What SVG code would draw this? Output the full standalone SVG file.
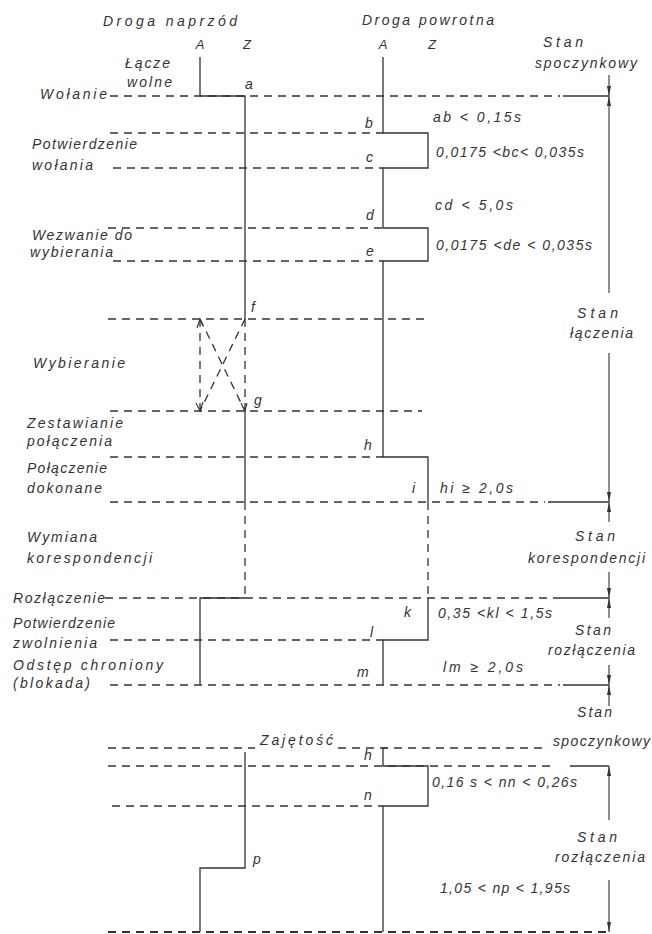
<svg xmlns="http://www.w3.org/2000/svg" width="652" height="934" viewBox="0 0 652 934">
<defs>
<marker id="ah" viewBox="0 0 10 4" refX="10" refY="2" markerWidth="10" markerHeight="4" markerUnits="userSpaceOnUse" orient="auto">
<path d="M0,0 L10,2 L0,4 z" fill="#333"/>
</marker>
</defs>
<style>
.t{font-family:"Liberation Sans","DejaVu Sans",sans-serif;font-style:italic;font-size:14px;fill:#333;}
.s{font-size:13px;}
.d{stroke:#333;stroke-width:1.3;stroke-dasharray:8 6;fill:none;}
.w{stroke:#333;stroke-width:1.3;fill:none;}
.a{stroke:#333;stroke-width:1.1;fill:none;marker-end:url(#ah);}
</style>
<rect width="652" height="934" fill="#fff"/>

<g id="dashed-levels">
<line class="d" x1="110" y1="96" x2="560" y2="96"/><line class="w" x1="563" y1="96" x2="609" y2="96"/>
<line class="d" x1="110" y1="133" x2="383" y2="133"/>
<line class="d" x1="113" y1="168" x2="383" y2="168"/>
<line class="d" x1="108" y1="228" x2="383" y2="228"/>
<line class="d" x1="113" y1="261" x2="383" y2="261"/>
<line class="d" x1="108" y1="319" x2="425" y2="319"/>
<line class="d" x1="110" y1="411" x2="422" y2="411"/>
<line class="d" x1="110" y1="457" x2="383" y2="457"/>
<line class="d" x1="110" y1="502" x2="545" y2="502"/><line class="w" x1="548" y1="502" x2="609" y2="502"/>
<line class="d" x1="105" y1="598" x2="550" y2="598"/><line class="w" x1="553" y1="598" x2="609" y2="598"/>
<line class="d" x1="110" y1="640" x2="383" y2="640"/>
<line class="d" x1="110" y1="685" x2="560" y2="685"/><line class="w" x1="563" y1="685" x2="609" y2="685"/>
<line class="d" x1="108" y1="748" x2="255" y2="748"/><line class="d" x1="338" y1="748" x2="548" y2="748"/>
<line class="d" x1="108" y1="766" x2="555" y2="766"/><line class="w" x1="570" y1="766" x2="609" y2="766"/>
<line class="d" x1="112" y1="806" x2="383" y2="806"/>
<line class="d" x1="108" y1="932" x2="609" y2="932" style="stroke-width:1.8"/>
</g>

<g id="forward-path">
<path class="w" d="M200,57 V96 H245 V319"/>
<line class="d" x1="245" y1="319" x2="245" y2="411"/>
<line class="d" x1="200" y1="319" x2="200" y2="411"/>
<line class="d" x1="245" y1="319" x2="200" y2="411"/>
<line class="d" x1="200" y1="319" x2="245" y2="411"/>
<polyline class="w" points="197,328 200,319 203,326" style="stroke-width:1.1"/>
<polyline class="w" points="196,403 200,411 203,402" style="stroke-width:1.1"/>
<polyline class="w" points="241,403 245,411 247,403" style="stroke-width:1.1"/>
<path class="w" d="M245,411 V502"/>
<line class="d" x1="245" y1="502" x2="245" y2="598"/>
<path class="w" d="M245,598 H200 V685"/>
<path class="w" d="M245,752 V868 H200 V932"/>
</g>

<g id="return-path">
<path class="w" d="M383,57 V133 H428 V168 H383 V228 H428 V261 H383 V457 H428 V502"/>
<line class="d" x1="428" y1="502" x2="428" y2="598"/>
<path class="w" d="M428,598 V640 H383 V685"/>
<path class="w" d="M387,748 H383 V766 H428 V806 H383 V932"/>
</g>

<g id="state-arrows">
<line class="a" x1="609" y1="75" x2="609" y2="96"/>
<line class="a" x1="609" y1="293" x2="609" y2="96"/>
<line class="a" x1="609" y1="353" x2="609" y2="502"/>
<line class="a" x1="609" y1="522" x2="609" y2="502"/>
<line class="a" x1="609" y1="572" x2="609" y2="598"/>
<line class="a" x1="609" y1="618" x2="609" y2="598"/>
<line class="a" x1="609" y1="665" x2="609" y2="685"/>
<line class="a" x1="609" y1="706" x2="609" y2="685"/>
<line class="a" x1="609" y1="820" x2="609" y2="766"/>
<line class="a" x1="609" y1="880" x2="609" y2="932"/>
</g>

<g id="headers">
<text class="t" x="103" y="26" textLength="134" lengthAdjust="spacing">Droga naprzód</text>
<text class="t s" x="200" y="49" text-anchor="middle">A</text>
<text class="t s" x="247" y="49" text-anchor="middle">Z</text>
<text class="t" x="362" y="25" textLength="132" lengthAdjust="spacing">Droga powrotna</text>
<text class="t s" x="383" y="49" text-anchor="middle">A</text>
<text class="t s" x="432" y="49" text-anchor="middle">Z</text>
</g>

<g id="left-labels">
<text class="t" x="125" y="68" textLength="45" lengthAdjust="spacing">Łącze</text>
<text class="t" x="127" y="87" textLength="45" lengthAdjust="spacing">wolne</text>
<text class="t" x="40" y="99" textLength="67" lengthAdjust="spacing">Wołanie</text>
<text class="t" x="32" y="149" textLength="105" lengthAdjust="spacing">Potwierdzenie</text>
<text class="t" x="32" y="170" textLength="61" lengthAdjust="spacing">wołania</text>
<text class="t" x="32" y="240" textLength="100" lengthAdjust="spacing">Wezwanie do</text>
<text class="t" x="30" y="257" textLength="83" lengthAdjust="spacing">wybierania</text>
<text class="t" x="33" y="368" textLength="92" lengthAdjust="spacing">Wybieranie</text>
<text class="t" x="27" y="428" textLength="96" lengthAdjust="spacing">Zestawianie</text>
<text class="t" x="27" y="446" textLength="85" lengthAdjust="spacing">połączenia</text>
<text class="t" x="27" y="473" textLength="80" lengthAdjust="spacing">Połączenie</text>
<text class="t" x="27" y="493" textLength="75" lengthAdjust="spacing">dokonane</text>
<text class="t" x="27" y="542" textLength="70" lengthAdjust="spacing">Wymiana</text>
<text class="t" x="27" y="563" textLength="125" lengthAdjust="spacing">korespondencji</text>
<text class="t" x="13" y="603" textLength="92" lengthAdjust="spacing">Rozłączenie</text>
<text class="t" x="13" y="628" textLength="102" lengthAdjust="spacing">Potwierdzenie</text>
<text class="t" x="13" y="648" textLength="84" lengthAdjust="spacing">zwolnienia</text>
<text class="t" x="13" y="670" textLength="150" lengthAdjust="spacing">Odstęp chroniony</text>
<text class="t" x="13" y="688" textLength="77" lengthAdjust="spacing">(blokada)</text>
<text class="t" x="260" y="745" textLength="73" lengthAdjust="spacing">Zajętość</text>
</g>

<g id="point-labels">
<text class="t" x="245" y="89">a</text>
<text class="t" x="365" y="128">b</text>
<text class="t" x="366" y="162">c</text>
<text class="t" x="366" y="220">d</text>
<text class="t" x="366" y="256">e</text>
<text class="t" x="251" y="312">f</text>
<text class="t" x="254" y="405">g</text>
<text class="t" x="364" y="450">h</text>
<text class="t" x="412" y="493">i</text>
<text class="t" x="404" y="617">k</text>
<text class="t" x="370" y="637">l</text>
<text class="t" x="357" y="677">m</text>
<text class="t" x="364" y="760">h</text>
<text class="t" x="364" y="800">n</text>
<text class="t" x="253" y="864">p</text>
</g>

<g id="timing-labels">
<text class="t" x="433" y="122" textLength="88" lengthAdjust="spacing">ab &lt; 0,15s</text>
<text class="t" x="436" y="157" textLength="148" lengthAdjust="spacing">0,0175 &lt;bc&lt; 0,035s</text>
<text class="t" x="435" y="210" textLength="78" lengthAdjust="spacing">cd &lt; 5,0s</text>
<text class="t" x="436" y="250" textLength="156" lengthAdjust="spacing">0,0175 &lt;de &lt; 0,035s</text>
<text class="t" x="440" y="493" textLength="73" lengthAdjust="spacing">hi ≥ 2,0s</text>
<text class="t" x="438" y="618" textLength="114" lengthAdjust="spacing">0,35 &lt;kl &lt; 1,5s</text>
<text class="t" x="443" y="672" textLength="80" lengthAdjust="spacing">lm ≥ 2,0s</text>
<text class="t" x="432" y="787" textLength="145" lengthAdjust="spacing">0,16 s &lt; nn &lt; 0,26s</text>
<text class="t" x="440" y="893" textLength="130" lengthAdjust="spacing">1,05 &lt; np &lt; 1,95s</text>
</g>

<g id="state-labels">
<text class="t" x="543" y="47" textLength="40" lengthAdjust="spacing">Stan</text>
<text class="t" x="535" y="68" textLength="102" lengthAdjust="spacing">spoczynkowy</text>
<text class="t" x="577" y="318" textLength="41" lengthAdjust="spacing">Stan</text>
<text class="t" x="570" y="338" textLength="63" lengthAdjust="spacing">łączenia</text>
<text class="t" x="575" y="541" textLength="40" lengthAdjust="spacing">Stan</text>
<text class="t" x="528" y="563" textLength="117" lengthAdjust="spacing">korespondencji</text>
<text class="t" x="575" y="635" textLength="36" lengthAdjust="spacing">Stan</text>
<text class="t" x="548" y="655" textLength="87" lengthAdjust="spacing">rozłączenia</text>
<text class="t" x="577" y="717" textLength="35" lengthAdjust="spacing">Stan</text>
<text class="t" x="553" y="746" textLength="97" lengthAdjust="spacing">spoczynkowy</text>
<text class="t" x="577" y="842" textLength="40" lengthAdjust="spacing">Stan</text>
<text class="t" x="555" y="862" textLength="90" lengthAdjust="spacing">rozłączenia</text>
</g>
</svg>
